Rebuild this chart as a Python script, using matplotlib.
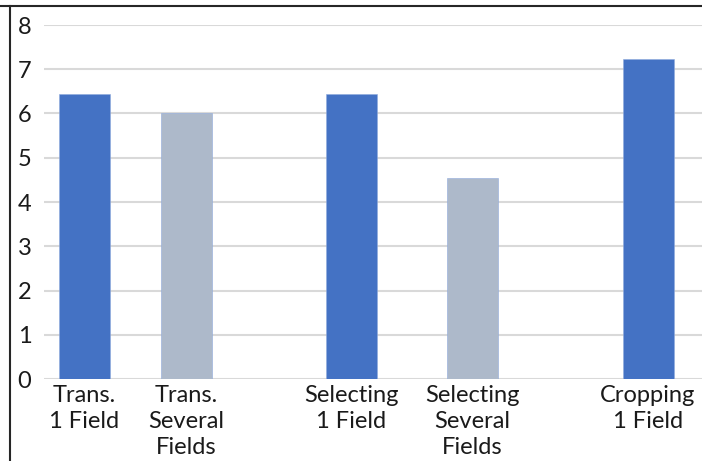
import matplotlib
matplotlib.use("Agg")
import matplotlib.pyplot as plt
from matplotlib.lines import Line2D

# Data
categories = ["Trans.\n1 Field", "Trans.\nSeveral\nFields",
              "Selecting\n1 Field", "Selecting\nSeveral\nFields",
              "Cropping\n1 Field"]
values = [6.45, 6.0, 6.45, 4.55, 7.23]
y_ticks = [0, 1, 2, 3, 4, 5, 6, 7, 8]

# Layout (horizontal positions of the bars in axis units)
positions = [84, 186, 351, 472, 648]
bar_width = 51
colors = ["#4472C4", "#ADB9CA", "#4472C4", "#ADB9CA", "#4472C4"]

W, H = 702, 461
fig = plt.figure(figsize=(W / 100, H / 100), dpi=100)
plt.rcParams["font.family"] = ["Lato", "DejaVu Sans"]

ax = fig.add_axes([44 / W, 1 - 379 / H, (W - 44) / W, (379 - 25) / H])
ax.bar(positions, values, width=bar_width, color=colors, zorder=3,
       edgecolor="#8FAADC", linewidth=0.4)
ax.set_xlim(44, W)
ax.set_ylim(0, 8)
ax.set_yticks(y_ticks)
ax.set_yticklabels([str(t) for t in y_ticks], fontsize=17, color="#1a1a1a")
ax.set_xticks(positions)
ax.set_xticklabels(categories, fontsize=17, color="#1a1a1a", linespacing=1.32)
ax.tick_params(axis="both", length=0)
ax.tick_params(axis="y", pad=9)
ax.tick_params(axis="x", pad=4)
for s in ax.spines.values():
    s.set_visible(False)
ax.yaxis.grid(True, color="#D9D9D9", linewidth=1.5, zorder=0)
ax.set_axisbelow(True)

# Chart frame edges
fig.add_artist(Line2D([0, 1], [1 - 6 / H, 1 - 6 / H], transform=fig.transFigure,
                      color="#262626", linewidth=1.5))
fig.add_artist(Line2D([10 / W, 10 / W], [0, 1 - 6 / H], transform=fig.transFigure,
                      color="#262626", linewidth=1.5))

fig.savefig("out.png", dpi=100)
